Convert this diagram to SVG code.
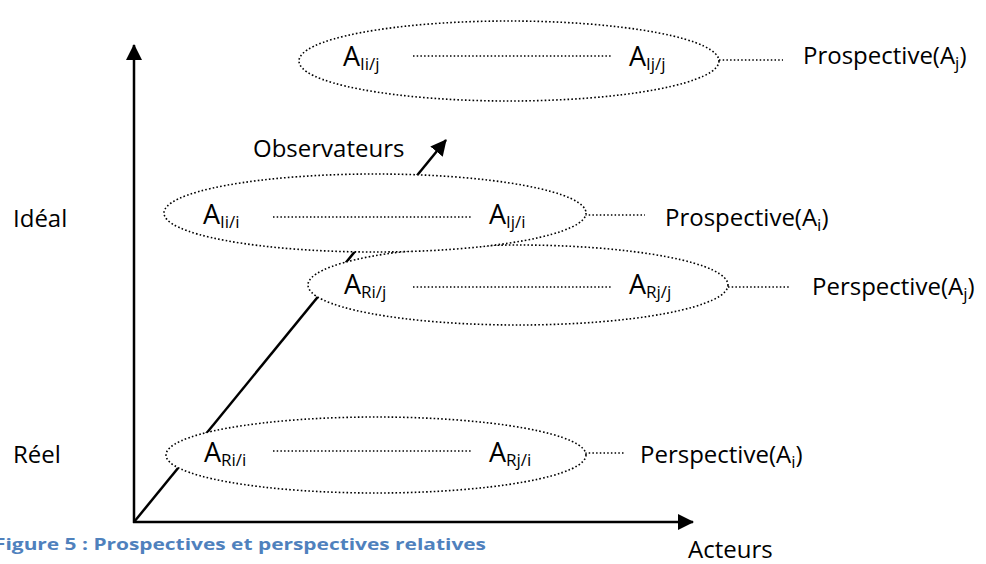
<svg xmlns="http://www.w3.org/2000/svg" width="986" height="564" viewBox="0 0 986 564">
<style>
.axis{stroke:#000;stroke-width:2.5;fill:none}
.ell{fill:#fff;stroke:#000;stroke-width:1.6;stroke-dasharray:1.6 2.2}
.dot{stroke:#000;stroke-width:1.4;stroke-dasharray:1.5 2.2;fill:none}
text{font-family:"Open Sans","Liberation Sans",sans-serif;fill:#000}
.lbl{font-size:24px}
.a{font-size:27px}
.sub{font-size:17px}
.cap{font-size:16px;font-weight:bold;fill:#4f81bd}
</style>
<defs>
<marker id="ah" markerUnits="userSpaceOnUse" markerWidth="18" markerHeight="18" refX="15" refY="8" orient="auto">
<path d="M0,0 L16,8 L0,16 Z" fill="#000"/>
</marker>
</defs>
<g id="connectors">
<line class="axis" x1="134" y1="523" x2="134" y2="45" marker-end="url(#ah)"/>
<line class="axis" x1="133" y1="522" x2="693" y2="522" marker-end="url(#ah)"/>
<line class="axis" x1="134" y1="522" x2="446" y2="140" marker-end="url(#ah)"/>
<line class="dot" x1="719" y1="60" x2="783" y2="60"/>
<line class="dot" x1="585" y1="215" x2="645" y2="215"/>
<line class="dot" x1="728" y1="287" x2="790" y2="287"/>
<line class="dot" x1="585" y1="453" x2="625" y2="453"/>
</g>
<g id="node-ideal-j">
<ellipse class="ell" cx="509" cy="61" rx="210" ry="40"/>
<text class="a" x="343" y="66">A<tspan class="sub" dy="4">Ii/j</tspan></text>
<line class="dot" x1="413" y1="56" x2="611" y2="56"/>
<text class="a" x="629" y="66">A<tspan class="sub" dy="4">Ij/j</tspan></text>
</g>
<g id="node-real-j">
<ellipse class="ell" cx="518" cy="285" rx="210" ry="40"/>
<text class="a" x="344" y="294">A<tspan class="sub" dy="4">Ri/j</tspan></text>
<line class="dot" x1="413" y1="287" x2="612" y2="287"/>
<text class="a" x="629" y="294">A<tspan class="sub" dy="4">Rj/j</tspan></text>
</g>
<g id="node-ideal-i">
<ellipse class="ell" cx="375" cy="213" rx="211" ry="39"/>
<text class="a" x="203" y="224">A<tspan class="sub" dy="4">Ii/i</tspan></text>
<line class="dot" x1="273" y1="217" x2="472" y2="217"/>
<text class="a" x="489" y="224">A<tspan class="sub" dy="4">Ij/i</tspan></text>
</g>
<g id="node-real-i">
<ellipse class="ell" cx="376" cy="455" rx="210" ry="38"/>
<text class="a" x="204" y="462">A<tspan class="sub" dy="4">Ri/i</tspan></text>
<line class="dot" x1="273" y1="451" x2="472" y2="451"/>
<text class="a" x="489" y="462">A<tspan class="sub" dy="4">Rj/i</tspan></text>
</g>
<g id="labels">
<text class="lbl" x="803" y="64">Prospective(A<tspan class="sub" dy="5">j</tspan><tspan dy="-5">)</tspan></text>
<text class="lbl" x="665" y="226">Prospective(A<tspan class="sub" dy="5">i</tspan><tspan dy="-5">)</tspan></text>
<text class="lbl" x="812" y="295">Perspective(A<tspan class="sub" dy="5">j</tspan><tspan dy="-5">)</tspan></text>
<text class="lbl" x="640" y="463">Perspective(A<tspan class="sub" dy="5">i</tspan><tspan dy="-5">)</tspan></text>
<text class="lbl" x="13" y="227">Idéal</text>
<text class="lbl" x="13" y="463">Réel</text>
<text class="lbl" x="253" y="157">Observateurs</text>
<text class="lbl" x="688" y="558">Acteurs</text>
<text class="cap" x="-6" y="550" textLength="492" lengthAdjust="spacingAndGlyphs">Figure 5 : Prospectives et perspectives relatives</text>
</g>
</svg>
